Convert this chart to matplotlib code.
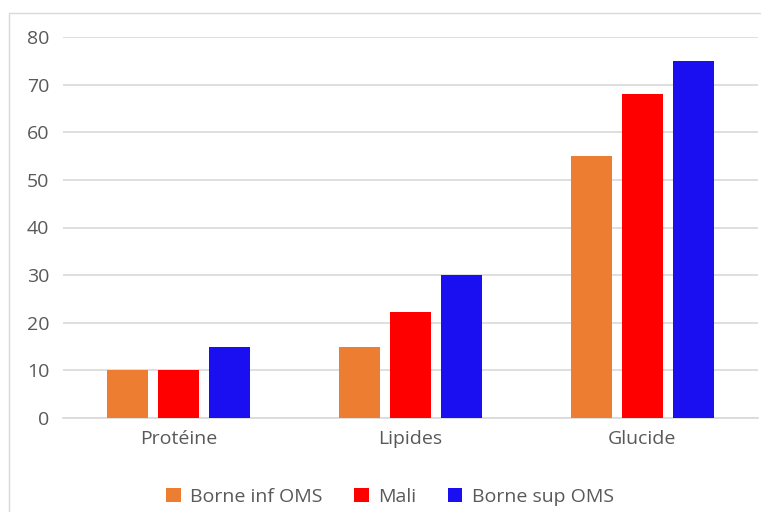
import matplotlib
matplotlib.use('Agg')
import matplotlib.pyplot as plt
from matplotlib.patches import Rectangle
import numpy as np

categories = ['Protéine', 'Lipides', 'Glucide']
series_names = ['Borne inf OMS', 'Mali', 'Borne sup OMS']
borne_inf = [10, 15, 55]
mali = [10, 22.3, 68]
borne_sup = [15, 30, 75]
yticks = [0, 10, 20, 30, 40, 50, 60, 70, 80]

colors = ['#ed7d31', '#ff0000', '#1a0ff0']
text_color = '#595959'
grid_color = '#d9d9d9'

plt.rcParams['font.family'] = ['Open Sans', 'DejaVu Sans']

fig = plt.figure(figsize=(7.61, 5.12), dpi=100)
fig.patches.append(Rectangle((9 / 761, -0.1), 1.2, 1 - 13 / 512 + 0.1,
                             transform=fig.transFigure, fill=False,
                             edgecolor='#d9d9d9', linewidth=1.0))

ax = fig.add_axes([63 / 761, 1 - 418 / 512, (758 - 63) / 761, (418 - 37) / 512])

x = np.arange(len(categories))
width = 0.177
step = 0.22
for i, (vals, name, c) in enumerate(zip([borne_inf, mali, borne_sup], series_names, colors)):
    ax.bar(x + (i - 1) * step, vals, width=width, color=c, label=name, zorder=3)

ax.set_xlim(-0.5, 2.5)
ax.set_ylim(0, 80)
ax.set_yticks(yticks)
ax.set_yticklabels([str(v) for v in yticks], fontsize=14, color=text_color)
ax.set_xticks(x)
ax.set_xticklabels(categories, fontsize=14, color=text_color)
ax.tick_params(axis='both', length=0)
ax.tick_params(axis='y', pad=10)
ax.tick_params(axis='x', pad=9)
ax.grid(True, axis='y', color=grid_color, linewidth=1.2, zorder=0)
for s in ['top', 'right', 'left']:
    ax.spines[s].set_visible(False)
ax.spines['bottom'].set_color(grid_color)
ax.spines['bottom'].set_linewidth(1.2)

ax.legend(loc='center', bbox_to_anchor=(390 / 761, 1 - 497 / 512),
          bbox_transform=fig.transFigure, ncol=3, frameon=False,
          fontsize=14, labelcolor=text_color, handlelength=0.75, handleheight=0.75,
          handletextpad=0.5, columnspacing=1.6)

fig.savefig('out.png', dpi=100, facecolor='white')
